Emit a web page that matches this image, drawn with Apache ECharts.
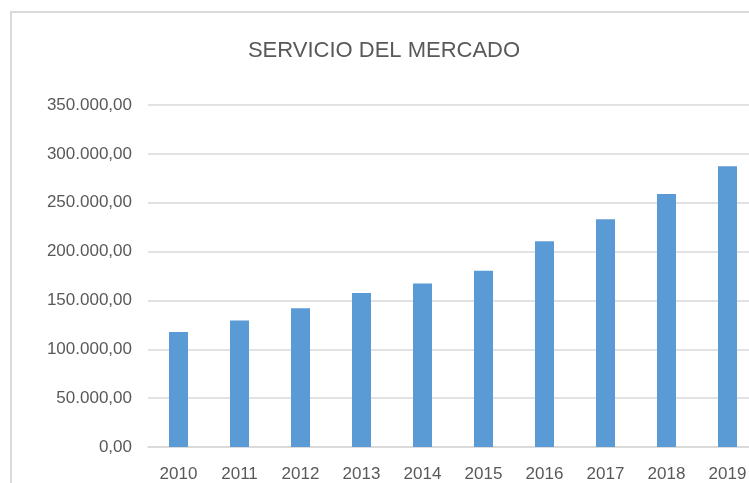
<!DOCTYPE html>
<html lang="es" style="height: 100%">
<head>
  <meta charset="utf-8">
</head>
<body style="height: 100%; margin: 0">
  <div id="container" style="height: 100%"></div>

  <script type="text/javascript" src="https://cdn.jsdelivr.net/npm/echarts@6/dist/echarts.min.js"></script>

  <script type="text/javascript">
    var years = ['2010', '2011', '2012', '2013', '2014', '2015', '2016', '2017', '2018', '2019'];
    var servicio = [117600, 129400, 142100, 157500, 167300, 180300, 210600, 233100, 259000, 287300];

    // 350000 -> "350.000,00"
    function fmt(v) {
      var s = String(Math.round(v));
      s = s.replace(/\B(?=(\d{3})+(?!\d))/g, '.');
      return s + ',00';
    }

    var dom = document.getElementById('container');
    var myChart = echarts.init(dom, null, { renderer: 'canvas' });

    var option = {
      animation: false,
      backgroundColor: '#ffffff',
      textStyle: { fontFamily: 'Liberation Sans' },
      graphic: [{
        type: 'rect',
        shape: { x: 11, y: 12, width: 900, height: 600 },
        style: { fill: 'none', stroke: '#d9d9d9', lineWidth: 2 },
        silent: true
      }],
      title: {
        text: 'SERVICIO DEL MERCADO',
        left: 379,
        textAlign: 'center',
        top: 35,
        textStyle: { fontSize: 22, fontWeight: 'normal', color: '#595959', fontFamily: 'Liberation Sans' }
      },
      // chart is cut off on the right, so the grid runs past the canvas
      grid: { left: 148, right: -9, top: 105, bottom: 36, containLabel: false, outerBoundsMode: 'none' },
      xAxis: {
        type: 'category',
        data: years,
        axisLine: { lineStyle: { color: '#d9d9d9', width: 1.5 } },
        axisTick: { show: false },
        axisLabel: { color: '#595959', fontSize: 17, margin: 19 }
      },
      yAxis: {
        type: 'value',
        min: 0,
        max: 350000,
        interval: 50000,
        axisLine: { show: false },
        axisTick: { show: false },
        splitLine: { lineStyle: { color: '#d9d9d9', width: 1.5 } },
        axisLabel: { color: '#595959', fontSize: 17, margin: 16, formatter: fmt }
      },
      series: [{
        type: 'bar',
        data: servicio,
        barWidth: 19,
        itemStyle: { color: '#5b9bd5' }
      }]
    };

    myChart.setOption(option);

    window.addEventListener('resize', function() {
      myChart.resize();
    });
  </script>
</body>
</html>
